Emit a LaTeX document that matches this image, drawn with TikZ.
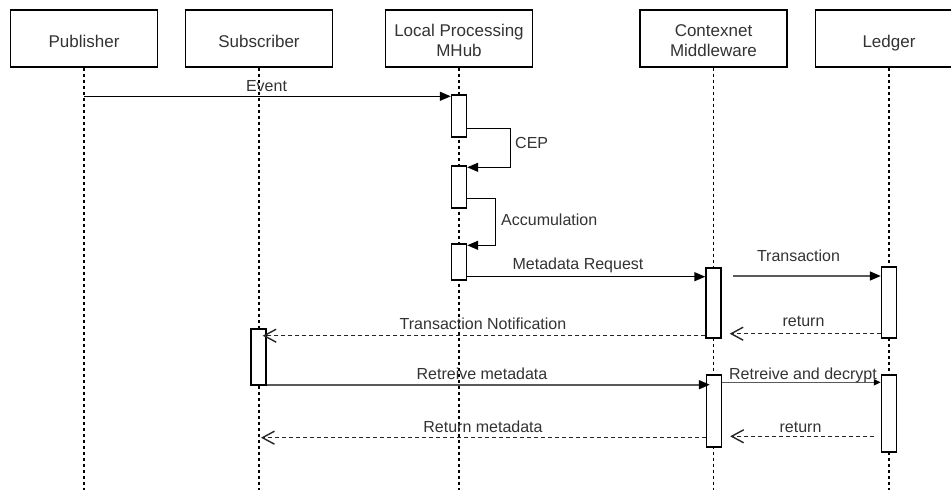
\documentclass[tikz,border=0pt]{standalone}
\usepackage{fontspec}
\setmainfont{Liberation Sans}
\usetikzlibrary{arrows.meta,calc}
\newcommand\hdrtext[2]{\raisebox{#1}[0pt][0pt]{\begin{tabular}[t]{@{}c@{}}#2\end{tabular}}}
\begin{document}
\begin{tikzpicture}[x=1pt,y=-1pt,
  font=\fontsize{16}{20}\selectfont,
  hdr/.style={draw=black,line width=1.4pt,minimum width=147pt,minimum height=57pt,inner sep=0pt,text=black!80,font=\fontsize{17}{20}\selectfont},
  act/.style={draw=black,fill=white,line width=1.4pt,minimum width=15pt,inner sep=0pt},
  life/.style={draw=black,line width=1.3pt,dash pattern=on 3pt off 3pt},
  msg/.style={draw=black,line width=1.4pt,-{Triangle[length=11pt,width=9pt]}},
  msggray/.style={draw=black!65,line width=1.6pt,-{Triangle[length=11pt,width=9pt,color=black,fill=black]}},
  ret/.style={draw=black!85,line width=1.4pt,dash pattern=on 4pt off 3pt,-{Straight Barb[length=12pt,width=13pt]}},
  lbl/.style={anchor=base,inner sep=0pt,text=black!80},
]
\path[fill=white,use as bounding box] (0,0) rectangle (951,490);

% participants
\node[hdr] (pub) at (84,38.5) {\hdrtext{-8.5pt}{Publisher}};
\node[hdr] (sub) at (259,38.5) {\hdrtext{-8.5pt}{Subscriber}};
\node[hdr] (mhub) at (459,38.5) {\hdrtext{2.5pt}{Local Processing\\MHub}};
\node[hdr] (ctx) at (713.5,38.5) {\hdrtext{2.5pt}{Contexnet\\Middleware}};
\node[hdr] (led) at (889,38.5) {\hdrtext{-8.5pt}{Ledger}};

% lifelines
\coordinate (pubE) at (84,490);
\coordinate (subE) at (259,490);
\coordinate (mhubE) at (459,490);
\coordinate (ctxE) at (713.5,490);
\coordinate (ledE) at (889,490);
\draw[life] (pub.south) -- (pubE);
\draw[life] (sub.south) -- (subE);
\draw[life] (mhub.south) -- (mhubE);
\draw[life] (ctx.south) -- (ctxE);
\draw[life] (led.south) -- (ledE);

% activations
\node[act,minimum height=42pt] (m1) at (459,116) {};
\node[act,minimum height=42pt] (m2) at (459,187) {};
\node[act,minimum height=36pt] (m3) at (459,262) {};
\node[act,minimum height=70pt] (c1) at (713.5,303) {};
\node[act,minimum height=71pt] (l1) at (889,302.5) {};
\node[act,minimum height=56pt] (s1) at (258.5,357) {};
\node[act,minimum height=72pt] (c2) at (714,411) {};
\node[act,minimum height=77pt] (l2) at (889,413.5) {};

% messages
\coordinate (ev) at ($(m1.north west)+(0,2)$);
\draw[msg] (pub.south |- ev) -- (ev);
\draw[msg] ($(m1.north east)+(0,34)$) -- ++(43.5,0) |- ($(m2.north east)+(0,2)$);
\draw[msg] ($(m2.north east)+(0,33)$) -- ++(28.5,0) |- ($(m3.north east)+(0,2)$);
\coordinate (mr) at ($(m3.south east)+(0,-4)$);
\draw[msg] (mr) -- (c1.west |- mr);
\coordinate (tr) at (733,276);
\draw[msggray] (tr) -- (l1.west |- tr);
\coordinate (r1) at ($(l1.south west)+(0,-5)$);
\draw[ret] (r1) -- ($(c1.east |- r1)+(8,0)$);
\coordinate (tn) at ($(c1.south west)+(0,-3)$);
\draw[ret] (tn) -- ($(s1.east |- tn)+(-4,0)$);
\coordinate (rm) at ($(s1.south east)+(0,-1)$);
\draw[msggray] (rm) -- ($(c2.west |- rm)+(4,0)$);
\coordinate (rd) at ($(c2.north east)+(0,8)$);
\draw[msggray,-{Triangle[length=7pt,width=6pt,color=black,fill=black]}] (rd) -- (l2.west |- rd);
\coordinate (r2) at ($(l2.north west)+(-6.5,62)$);
\draw[ret] (r2) -- ($(c2.east |- r2)+(8,0)$);
\coordinate (rmt) at ($(c2.south west)+(0,-10)$);
\draw[ret] (rmt) -- ($(sub.south |- rmt)+(2,0)$);

% labels
\node[lbl] (tEvent) at (266.5,91) {Event};
\node[lbl,anchor=base west] (tCEP) at (515,148) {CEP};
\node[lbl,anchor=base west] (tAcc) at (501,225) {Accumulation};
\node[lbl] (tMR) at (578,269) {Metadata Request};
\node[lbl] (tTr) at (798.5,261) {Transaction};
\node[lbl] (tRet1) at (803.5,326) {return};
\node[lbl] (tTN) at (483,329) {Transaction Notification};
\node[lbl] (tRM) at (482,379) {Retreive metadata};
\node[lbl] (tRD) at (803,379) {Retreive and decrypt};
\node[lbl] (tRet2) at (800.5,432) {return};
\node[lbl] (tRMt) at (483,432) {Return metadata};
\end{tikzpicture}
\end{document}
